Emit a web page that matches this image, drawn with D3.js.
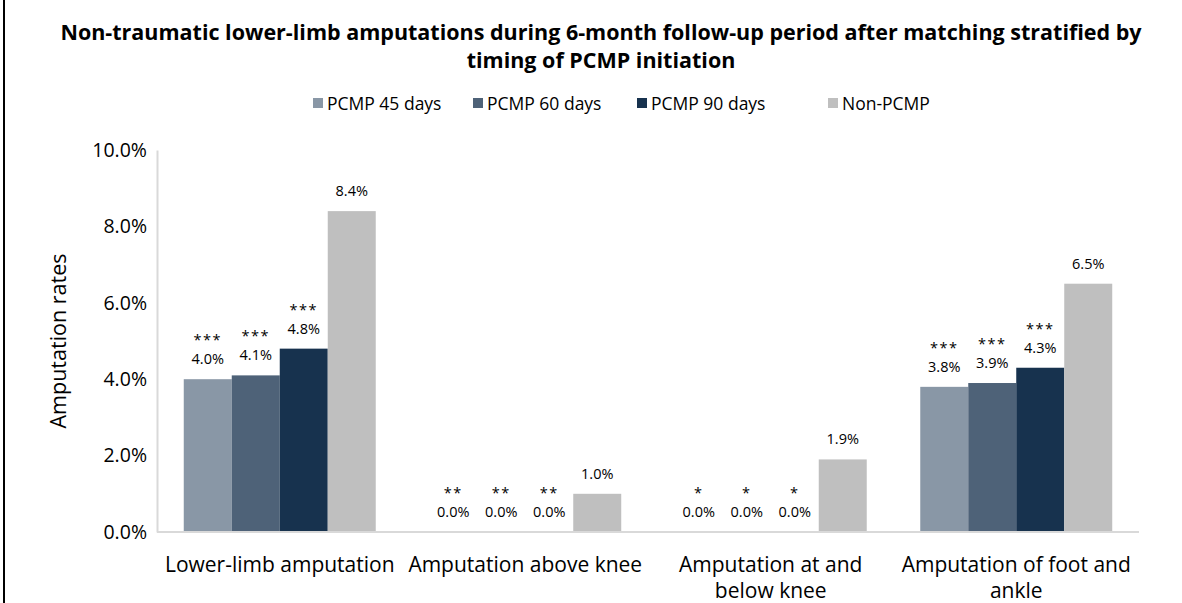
<!DOCTYPE html>
<html>
<head>
<meta charset="utf-8">
<script src="https://cdn.jsdelivr.net/npm/d3@7"></script>
<style>
  body { margin: 0; background: #fff; }
  svg { display: block; font-family: "Open Sans", "Noto Sans", sans-serif; }
</style>
</head>
<body>
<svg id="chart" width="1182" height="603"></svg>
<script>
// data
var categories = [
  ["Lower-limb amputation"],
  ["Amputation above knee"],
  ["Amputation at and", "below knee"],
  ["Amputation of foot and", "ankle"]
];
var seriesNames = ["PCMP 45 days", "PCMP 60 days", "PCMP 90 days", "Non-PCMP"];
var pcmp45 = [4.0, 0.0, 0.0, 3.8];
var pcmp60 = [4.1, 0.0, 0.0, 3.9];
var pcmp90 = [4.8, 0.0, 0.0, 4.3];
var nonPcmp = [8.4, 1.0, 1.9, 6.5];
var stars = ["***", "**", "*", "***"];   // significance per category (PCMP series only)
var yTicks = [0, 2, 4, 6, 8, 10];

var colors = ["#8997a6", "#4e6278", "#17324e", "#bfbfbf"];
var series = [pcmp45, pcmp60, pcmp90, nonPcmp];

var svg = d3.select("#chart");
var W = 1182, H = 603;
var margin = {top: 150, right: 43, bottom: 71, left: 157};
var plotW = W - margin.left - margin.right;
var plotH = H - margin.top - margin.bottom;

// frame line on the left
svg.append("line")
  .attr("x1", 4).attr("x2", 4).attr("y1", 0).attr("y2", H)
  .attr("stroke", "#000").attr("stroke-width", 2);

// title
var title = svg.append("text")
  .attr("text-anchor", "middle")
  .attr("font-size", 21.5).attr("font-weight", "bold").attr("fill", "#000");
title.append("tspan").attr("x", 601).attr("y", 40)
  .text("Non-traumatic lower-limb amputations during 6-month follow-up period after matching stratified by");
title.append("tspan").attr("x", 601).attr("y", 68)
  .text("timing of PCMP initiation");

// legend
var legendX = [313, 473, 637, 828];
var legend = svg.append("g");
seriesNames.forEach(function(name, i) {
  legend.append("rect")
    .attr("x", legendX[i]).attr("y", 98).attr("width", 10).attr("height", 10)
    .attr("fill", colors[i]);
  legend.append("text")
    .attr("x", legendX[i] + 14).attr("y", 109.5)
    .attr("font-size", 17.5).attr("fill", "#000")
    .text(name);
});

var g = svg.append("g").attr("transform", "translate(" + margin.left + "," + margin.top + ")");

var x0 = d3.scaleBand()
  .domain(d3.range(categories.length))
  .range([0, plotW])
  .paddingInner(0.218).paddingOuter(0.109);
var x1 = d3.scaleBand()
  .domain(d3.range(series.length))
  .range([0, x0.bandwidth()]);
var y = d3.scaleLinear().domain([0, 10]).range([plotH, 0]);

// y axis
var yAxis = g.append("g")
  .call(d3.axisLeft(y).tickValues(yTicks).tickSize(0).tickPadding(10)
    .tickFormat(function(d) { return d.toFixed(1) + "%"; }));
yAxis.select(".domain").attr("stroke", "#d9d9d9").attr("stroke-width", 2);
yAxis.selectAll("text").attr("font-size", 19.5).attr("fill", "#000")
  .attr("font-family", "'Open Sans', sans-serif");

// y label
svg.append("text")
  .attr("transform", "translate(66," + (margin.top + plotH / 2) + ") rotate(-90)")
  .attr("text-anchor", "middle").attr("font-size", 21.5).attr("fill", "#000")
  .text("Amputation rates");

// bars
var groups = g.selectAll("g.cat")
  .data(categories)
  .enter().append("g").attr("class", "cat")
  .attr("transform", function(d, i) { return "translate(" + x0(i) + ",0)"; });

groups.each(function(c, ci) {
  var grp = d3.select(this);
  series.forEach(function(vals, si) {
    var v = vals[ci];
    var bx = x1(si), bw = x1.bandwidth();
    grp.append("rect")
      .attr("x", bx).attr("width", bw)
      .attr("y", y(v)).attr("height", plotH - y(v))
      .attr("fill", colors[si]);
    grp.append("text")
      .attr("x", bx + bw / 2).attr("y", y(v) - 15)
      .attr("text-anchor", "middle").attr("font-size", 14.5).attr("fill", "#000")
      .text(v.toFixed(1) + "%");
    if (si < 3) {
      grp.append("text")
        .attr("x", bx + bw / 2).attr("y", y(v) - 34)
        .attr("text-anchor", "middle").attr("font-size", 14.5).attr("fill", "#000")
        .attr("letter-spacing", 1.5)
        .text(stars[ci]);
    }
  });
});

// x baseline
g.append("line")
  .attr("x1", 0).attr("x2", plotW).attr("y1", plotH).attr("y2", plotH)
  .attr("stroke", "#d9d9d9").attr("stroke-width", 2);

// category labels
groups.each(function(c, ci) {
  var t = d3.select(this).append("text")
    .attr("text-anchor", "middle").attr("font-size", 21).attr("fill", "#000");
  c.forEach(function(line, li) {
    t.append("tspan")
      .attr("x", x0.bandwidth() / 2)
      .attr("y", plotH + 40 + li * 26)
      .text(line);
  });
});
</script>
</body>
</html>
